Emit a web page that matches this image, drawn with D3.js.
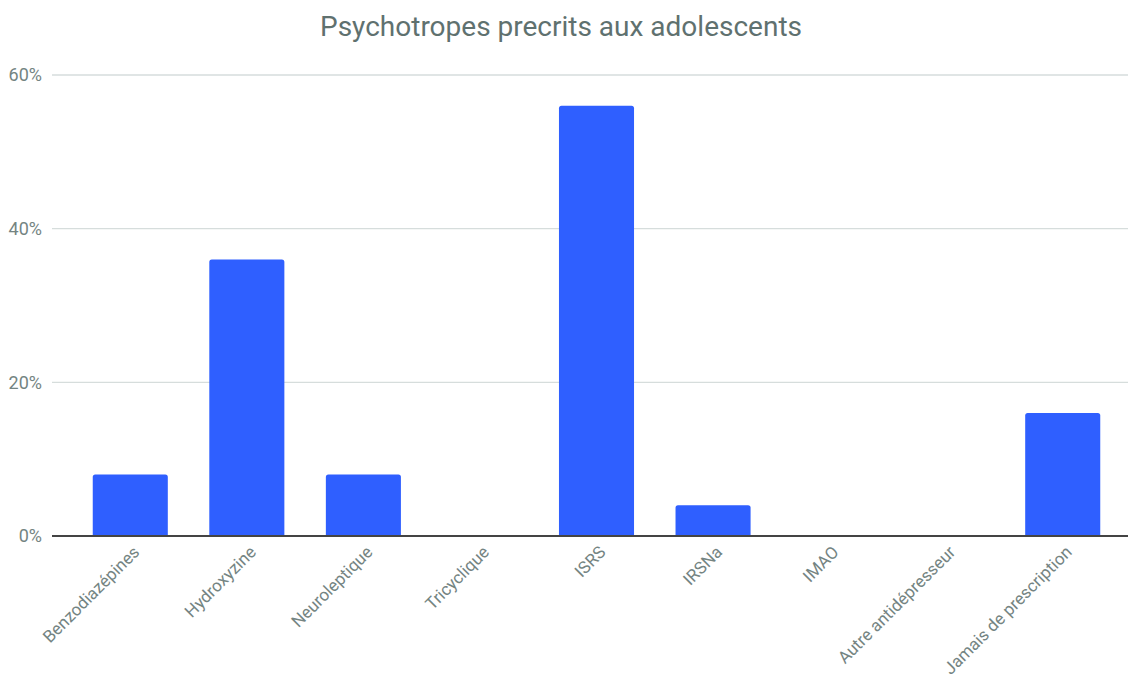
<!DOCTYPE html>
<html><head><meta charset="utf-8">
<script src="https://cdn.jsdelivr.net/npm/d3@7"></script>
<style>body{margin:0;background:#fff;}svg{display:block;font-family:Roboto,sans-serif;}</style>
</head><body><svg id="c" width="1128" height="682"></svg>
<script>
const title = "Psychotropes precrits aux adolescents";
const categories = ["Benzodiazépines","Hydroxyzine","Neuroleptique","Tricyclique","ISRS","IRSNa","IMAO","Autre antidépresseur","Jamais de prescription"];
const values = [0.08,0.36,0.08,0,0.56,0.04,0,0,0.16];
const yTicks = [0,0.2,0.4,0.6];

const svg = d3.select("#c");
const x = d3.scaleBand().domain(categories).range([72,1121]).paddingInner(0.356).paddingOuter(0.178);
const y = d3.scaleLinear().domain([0,0.6]).range([536,75]);

svg.append("text").attr("x",561).attr("y",36).attr("text-anchor","middle")
  .attr("font-size",28).attr("fill","#5f716f").text(title);

const grid = svg.append("g");
yTicks.filter(d=>d>0).forEach(t=>{
  grid.append("line").attr("x1",52).attr("x2",1128).attr("y1",y(t)).attr("y2",y(t))
    .attr("stroke","#d6dddc").attr("stroke-width",1.3);
});
const yAxis = d3.axisLeft(y).tickValues(yTicks).tickFormat(d3.format(".0%")).tickSize(0).tickPadding(10);
const ga = svg.append("g").attr("transform","translate(52,0)").call(yAxis);
ga.select(".domain").remove();
ga.selectAll("text").attr("font-size",18).attr("fill","#748482").attr("font-family","Roboto,sans-serif");

const r = 2.5;
svg.append("g").selectAll("path").data(values.map((v,i)=>({c:categories[i],v}))).join("path")
  .filter(d=>d.v>0)
  .attr("fill","#2f5fff")
  .attr("d",d=>{
    const x0=x(d.c), w=x.bandwidth(), y0=y(d.v), yb=y(0);
    return `M${x0},${yb}V${y0+r}Q${x0},${y0} ${x0+r},${y0}H${x0+w-r}Q${x0+w},${y0} ${x0+w},${y0+r}V${yb}Z`;
  });

svg.append("line").attr("x1",52).attr("x2",1128).attr("y1",y(0)).attr("y2",y(0))
  .attr("stroke","#444").attr("stroke-width",2);

const xAxis = d3.axisBottom(x).tickSize(0).tickPadding(0);
const gx = svg.append("g").attr("transform",`translate(0,${y(0)})`).call(xAxis);
gx.select(".domain").remove();
gx.selectAll("text").attr("font-size",17).attr("fill","#748482").attr("font-family","Roboto,sans-serif")
  .attr("text-anchor","end").attr("dy","0.35em")
  .attr("transform","translate(6,13) rotate(-45)");
</script></body></html>
